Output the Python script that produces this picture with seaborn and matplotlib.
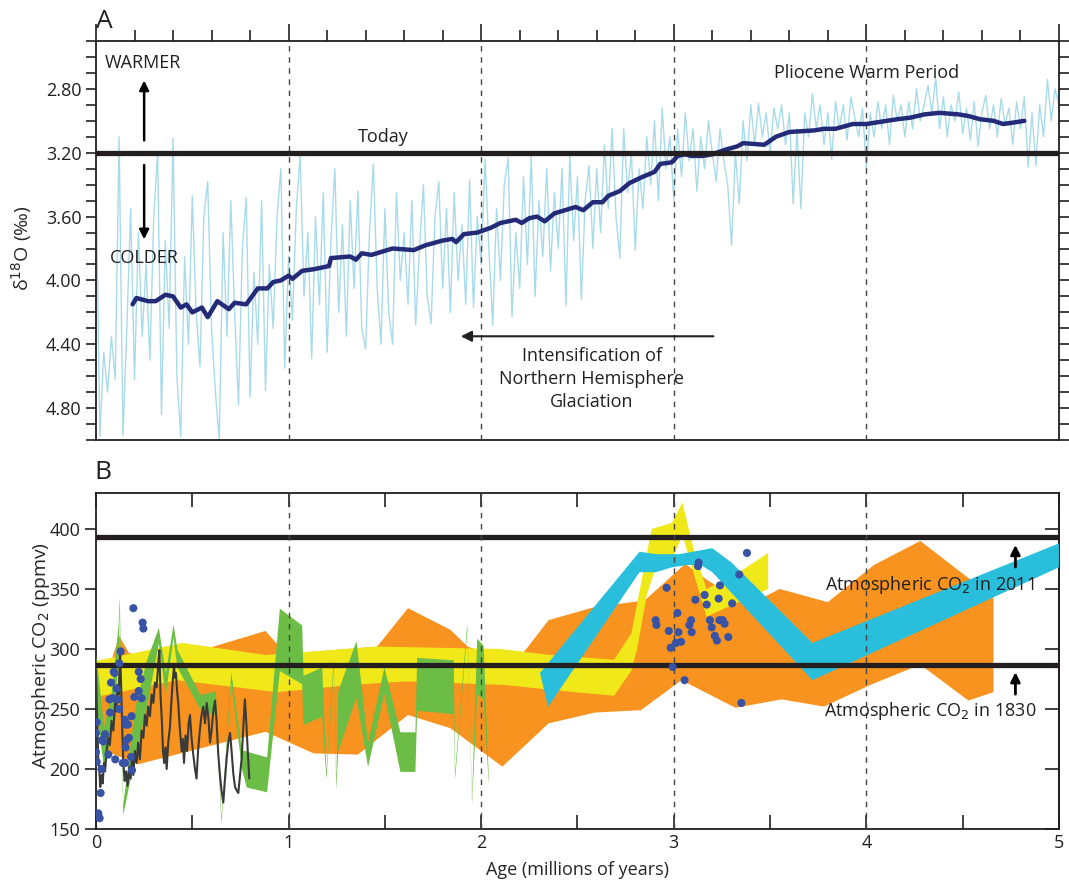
import numpy as np
import matplotlib
matplotlib.use('Agg')
import matplotlib.pyplot as plt
from matplotlib.ticker import MultipleLocator, FormatStrFormatter
import seaborn as sns

# ---------------- Panel A: benthic d18O stack ----------------
# raw record, read every 0.02 Myr from 0 to 5 Ma
d18o_raw = [
    3.30, 4.98, 4.45, 4.70, 4.35, 4.62, 3.10, 4.97, 4.30, 3.55,
    4.62, 3.70, 4.35, 3.90, 4.50, 3.60, 3.20, 4.84, 3.75, 4.30,
    3.11, 4.60, 4.98, 3.85, 4.40, 3.47, 4.20, 4.54, 3.60, 3.38,
    4.30, 4.70, 5.00, 3.70, 4.35, 3.50, 4.20, 4.78, 3.80, 3.48,
    4.73, 3.95, 4.40, 3.50, 4.69, 3.90, 4.30, 3.60, 3.30, 4.55,
    3.85, 4.25, 3.55, 3.22, 4.10, 3.70, 4.49, 3.60, 4.15, 3.45,
    4.45, 3.75, 3.30, 4.20, 3.65, 4.35, 3.50, 4.05, 3.44, 4.30,
    4.43, 3.70, 3.27, 4.05, 4.40, 3.55, 4.20, 4.40, 3.45, 4.00,
    3.70, 4.15, 3.50, 4.28, 3.80, 3.40, 4.10, 4.27, 3.60, 3.38,
    4.05, 3.55, 4.20, 3.45, 4.00, 3.65, 4.15, 3.37, 4.17, 3.60,
    3.90, 3.24, 3.80, 4.28, 3.55, 4.00, 3.40, 3.23, 4.23, 3.70,
    4.05, 3.35, 3.90, 3.22, 4.10, 3.50, 3.85, 3.30, 3.94, 3.45,
    3.80, 3.30, 4.16, 3.22, 3.75, 3.35, 4.12, 3.50, 3.28, 3.80,
    3.30, 3.70, 3.15, 3.55, 3.05, 3.60, 3.86, 3.05, 3.45, 3.20,
    3.81, 3.30, 3.55, 3.10, 3.40, 3.00, 3.50, 2.92, 3.30, 3.10,
    3.50, 3.05, 3.35, 2.95, 3.25, 3.05, 3.44, 3.10, 3.30, 3.00,
    3.20, 3.38, 3.05, 3.25, 3.40, 3.78, 3.20, 3.52, 3.00, 3.25,
    2.90, 3.15, 2.89, 3.10, 2.95, 3.20, 2.92, 3.05, 2.90, 3.15,
    2.95, 3.52, 3.05, 3.55, 2.95, 3.10, 2.83, 3.05, 2.90, 3.15,
    2.95, 3.24, 2.88, 3.05, 2.90, 3.12, 2.85, 2.98, 3.10, 2.92,
    3.30, 2.95, 3.10, 2.88, 3.05, 2.90, 3.15, 2.84, 3.00, 2.90,
    3.10, 2.88, 3.05, 2.80, 3.00, 2.90, 2.78, 2.95, 2.73, 3.05,
    2.85, 3.10, 2.90, 3.00, 2.82, 3.08, 2.92, 3.12, 2.88, 3.16,
    2.95, 2.84, 3.05, 2.90, 3.10, 2.86, 3.02, 2.92, 3.15, 2.88,
    3.05, 2.85, 3.29, 2.95, 3.28, 2.90, 3.10, 2.74, 3.00, 2.80,
    2.90,
]
d18o_age = np.linspace(0, 5, len(d18o_raw))

# smoothed curve
smooth_age = [0.19, 0.21, 0.27, 0.31, 0.36, 0.40, 0.44, 0.47, 0.50, 0.55,
              0.58, 0.63, 0.69, 0.72, 0.78, 0.84, 0.89, 0.92, 0.96, 1.00,
              1.02, 1.07, 1.13, 1.21, 1.22, 1.32, 1.35, 1.38, 1.43, 1.54,
              1.65, 1.71, 1.80, 1.85, 1.87, 1.91, 1.98, 2.05, 2.10, 2.18,
              2.21, 2.25, 2.29, 2.33, 2.38, 2.49, 2.53, 2.58, 2.63, 2.66,
              2.72, 2.77, 2.84, 2.90, 2.93, 2.99, 3.02, 3.06, 3.09, 3.15,
              3.20, 3.27, 3.33, 3.36, 3.47, 3.53, 3.60, 3.73, 3.78, 3.84,
              3.93, 4.00, 4.16, 4.23, 4.30, 4.38, 4.48, 4.53, 4.59, 4.66,
              4.71, 4.77, 4.82]
smooth_val = [4.15, 4.11, 4.13, 4.13, 4.09, 4.10, 4.17, 4.15, 4.20, 4.17,
              4.23, 4.13, 4.18, 4.14, 4.15, 4.05, 4.05, 4.01, 4.00, 3.97,
              3.99, 3.94, 3.93, 3.91, 3.86, 3.85, 3.87, 3.83, 3.84, 3.80,
              3.81, 3.78, 3.75, 3.74, 3.76, 3.71, 3.70, 3.67, 3.64, 3.62,
              3.64, 3.61, 3.60, 3.63, 3.58, 3.54, 3.56, 3.51, 3.51, 3.47,
              3.44, 3.39, 3.35, 3.32, 3.27, 3.26, 3.22, 3.21, 3.22, 3.22,
              3.21, 3.18, 3.16, 3.14, 3.15, 3.10, 3.07, 3.06, 3.05, 3.05,
              3.02, 3.02, 2.99, 2.98, 2.96, 2.95, 2.96, 2.97, 2.99, 3.00,
              3.02, 3.01, 3.00]
today_d18o = 3.20

# ---------------- Panel B: CO2 reconstructions ----------------
orange_upper_age = [0.00, 0.08, 0.12, 0.17, 0.25, 0.45, 0.61, 0.88, 0.93, 1.00,
                    1.46, 1.62, 1.84, 1.93, 2.00, 2.22, 2.35, 2.59, 2.83, 2.86,
                    3.06, 3.16, 3.38, 3.55, 3.80, 4.04, 4.28, 4.66]
orange_upper = [280, 290, 311, 297, 292, 296, 302, 315, 306, 296,
                302, 334, 316, 302, 298, 297, 324, 335, 340, 342,
                371, 359, 336, 350, 339, 370, 390, 343]
orange_lower_age = [0.00, 0.05, 0.22, 0.88, 1.13, 1.36, 1.62, 1.84, 2.11, 2.35,
                    2.59, 2.83, 3.04, 3.32, 3.56, 3.78, 4.02, 4.28, 4.53, 4.66]
orange_lower = [240, 215, 204, 231, 213, 212, 245, 234, 202, 238,
                247, 249, 274, 251, 258, 252, 270, 287, 257, 264]

yellow_upper_age = [0.00, 0.45, 0.88, 1.46, 2.10, 2.36, 2.69, 2.78, 2.885, 2.99,
                    3.045, 3.10, 3.17, 3.33, 3.49]
yellow_upper = [290, 305, 295, 302, 300, 295, 291, 313, 400, 405,
                422, 385, 350, 363, 380]
yellow_lower_age = [0.00, 0.42, 0.94, 1.32, 1.61, 2.12, 2.36, 2.69, 2.78, 2.81,
                    2.86, 2.92, 3.00, 3.045, 3.10, 3.17, 3.49]
yellow_lower = [260, 274, 264, 270, 273, 270, 266, 261, 282, 300,
                345, 375, 378, 395, 365, 327, 350]

green_age = [0.00, 0.04, 0.08, 0.115, 0.121, 0.127, 0.139, 0.20, 0.26, 0.324,
             0.36, 0.40, 0.42, 0.54, 0.62, 0.649, 0.70, 0.756, 0.78, 0.886,
             0.952, 1.068, 1.075, 1.172, 1.194, 1.232, 1.245, 1.255, 1.35, 1.41,
             1.495, 1.578, 1.656, 1.665, 1.855, 1.862, 1.925, 1.950, 1.977, 2.01,
             2.037]
green_lo = [250, 200, 230, 290, 335, 250, 162, 210, 250, 305,
            262, 310, 285, 250, 245, 155, 272, 200, 185, 181,
            282, 271, 237, 244, 192, 285, 183, 215, 260, 202,
            263, 198, 198, 249, 246, 192, 315, 171, 263, 258,
            188]
green_hi = [295, 235, 265, 320, 344, 290, 170, 250, 290, 318,
            280, 321, 300, 262, 265, 160, 281, 216, 215, 210,
            334, 320, 278, 285, 198, 292, 190, 265, 307, 222,
            285, 231, 231, 293, 291, 198, 321, 176, 309, 303,
            193]

cyan_upper_age = [2.305, 2.822, 2.908, 3.03, 3.20, 3.30, 3.72, 5.00]
cyan_upper = [280, 381, 379, 379, 384, 372, 305, 388]
cyan_lower_age = [2.348, 2.822, 2.908, 2.99, 3.07, 3.14, 3.20, 3.72, 5.00]
cyan_lower = [252, 364, 364, 368, 370, 370, 364, 274, 368]

dot_age = [0.194, 0.242, 0.246, 0.128, 0.121, 0.092, 0.096, 0.222, 0.232, 0.078,
           0.222, 0.237, 0.199, 0.070, 0.087, 0.116, 0.107, 0.121, 0.073, 0.185,
           0.004, 0.150, 0.155, 0.166, 0.000, 0.047, 0.030, 0.038, 0.171, 0.159,
           0.154, 0.064, 0.000, 0.004, 0.182, 0.100, 0.139, 0.152, 0.187, 0.028,
           0.024, 0.012, 0.019,
           3.380, 3.129, 3.126, 3.340, 2.963, 3.240, 3.160, 3.233, 3.112, 3.171,
           3.303, 3.019, 2.906, 2.910, 3.090, 3.081, 3.188, 3.237, 3.254, 3.264,
           3.197, 2.974, 3.024, 3.093, 3.213, 3.283, 3.224, 3.011, 3.038, 2.984,
           2.994, 3.056, 3.351]
dot_co2 = [334, 322, 317, 298, 288, 281, 280, 281, 275, 272,
           265, 259, 260, 258, 259, 258, 267, 250, 247, 244,
           239, 241, 237, 237, 230, 229, 224, 223, 226, 224,
           218, 212, 214, 206, 210, 208, 205, 205, 199, 200,
           180, 163, 159,
           380, 372, 369, 362, 351, 353, 345, 342, 341, 337,
           338, 330, 324, 320, 324, 320, 324, 324, 324, 321,
           318, 315, 314, 314, 311, 310, 307, 305, 306, 301,
           285, 274, 255]

ice_age = [0.000, 0.004, 0.008, 0.012, 0.017, 0.022, 0.029, 0.035, 0.041, 0.047,
           0.055, 0.064, 0.072, 0.081, 0.090, 0.099, 0.105, 0.111, 0.118, 0.125,
           0.130, 0.136, 0.142, 0.149, 0.156, 0.164, 0.173, 0.180, 0.187, 0.194,
           0.202, 0.211, 0.219, 0.228, 0.237, 0.246, 0.254, 0.263, 0.271, 0.280,
           0.289, 0.298, 0.306, 0.315, 0.322, 0.329, 0.335, 0.342, 0.348, 0.354,
           0.361, 0.367, 0.375, 0.384, 0.391, 0.398, 0.405, 0.410, 0.415, 0.421,
           0.427, 0.436, 0.445, 0.451, 0.457, 0.465, 0.473, 0.481, 0.488, 0.496,
           0.505, 0.514, 0.522, 0.530, 0.539, 0.548, 0.557, 0.566, 0.575, 0.584,
           0.592, 0.600, 0.609, 0.618, 0.626, 0.635, 0.644, 0.652, 0.661, 0.669,
           0.678, 0.687, 0.696, 0.704, 0.713, 0.722, 0.731, 0.739, 0.748, 0.756,
           0.765, 0.773, 0.780, 0.788, 0.796]
ice_co2 = [282, 255, 230, 208, 200, 185, 195, 188, 205, 198,
           215, 226, 220, 240, 232, 255, 248, 270, 262, 298,
           272, 235, 205, 190, 198, 186, 202, 192, 210, 195,
           215, 205, 222, 208, 232, 226, 245, 236, 252, 244,
           262, 255, 272, 268, 285, 299, 262, 240, 215, 205,
           218, 200, 222, 235, 255, 272, 286, 276, 280, 265,
           255, 232, 215, 225, 205, 228, 215, 238, 245, 226,
           212, 200, 192, 215, 232, 245, 252, 238, 255, 242,
           222, 232, 248, 257, 240, 212, 194, 182, 172, 190,
           208, 222, 230, 215, 196, 185, 182, 180, 195, 208,
           235, 258, 240, 215, 192]

co2_2011 = 393
co2_1830 = 287
grid_ages = [1, 2, 3, 4]

# ---------------- style ----------------
sns.set_theme(style='ticks')
plt.rcParams['font.family'] = ['Open Sans', 'DejaVu Sans']
plt.rcParams['axes.edgecolor'] = '#231f20'
plt.rcParams['axes.linewidth'] = 1.3
plt.rcParams['xtick.color'] = '#231f20'
plt.rcParams['ytick.color'] = '#231f20'
plt.rcParams['text.color'] = '#231f20'

dark = '#231f20'
fs_tick = 13
fs_text = 13

fig = plt.figure(figsize=(10.69, 8.82), dpi=100)
ax1 = fig.add_axes([0.0898, 0.5011, 0.9008, 0.4524])
ax2 = fig.add_axes([0.0898, 0.0601, 0.9008, 0.381])

# ---- panel A ----
sns.lineplot(x=d18o_age, y=d18o_raw, ax=ax1, color='#a8dbea', lw=1.0,
             sort=False, estimator=None, zorder=2)
sns.lineplot(x=smooth_age, y=smooth_val, ax=ax1, color='#232a77', lw=3.2,
             sort=False, estimator=None, zorder=4)
ax1.axhline(today_d18o, color=dark, lw=3.8, zorder=5)
for a in grid_ages:
    ax1.axvline(a, color='#444444', lw=1.0, ls=(0, (4, 4)), zorder=3)

ax1.set_xlim(0, 5)
ax1.set_ylim(5.0, 2.5)
ax1.xaxis.tick_top()
ax1.xaxis.set_major_locator(MultipleLocator(1))
ax1.xaxis.set_minor_locator(MultipleLocator(0.2))
ax1.tick_params(axis='x', which='both', direction='out', top=True, bottom=False,
                labeltop=False, labelbottom=False, width=1.2)
ax1.tick_params(axis='x', which='major', length=12)
ax1.tick_params(axis='x', which='minor', length=8)
ax1.yaxis.set_major_locator(MultipleLocator(0.4))
ax1.yaxis.set_minor_locator(MultipleLocator(0.1))
ax1.yaxis.set_major_formatter(FormatStrFormatter('%.2f'))
ax1.tick_params(axis='y', which='both', direction='out', left=True, right=True,
                labelleft=True, labelright=False, length=7, width=1.2,
                labelsize=fs_tick)
ax1.set_xlabel('')
ax1.set_ylabel('δ$^{18}$O (‰)', fontsize=fs_text + 1)
ax1.yaxis.set_label_coords(-0.064, 0.48)

ax1.text(0.245, 2.635, 'WARMER', ha='center', va='center', fontsize=fs_text)
ax1.text(0.25, 3.86, 'COLDER', ha='center', va='center', fontsize=fs_text)
ax1.annotate('', xy=(0.25, 2.73), xytext=(0.25, 3.14),
             arrowprops=dict(arrowstyle='-|>', color='black', lw=1.8, mutation_scale=14))
ax1.annotate('', xy=(0.25, 3.76), xytext=(0.25, 3.26),
             arrowprops=dict(arrowstyle='-|>', color='black', lw=1.8, mutation_scale=14))
ax1.text(1.49, 3.10, 'Today', ha='center', va='center', fontsize=fs_text)
ax1.text(4.0, 2.70, 'Pliocene Warm Period', ha='center', va='center', fontsize=fs_text)
ax1.annotate('', xy=(1.88, 4.35), xytext=(3.22, 4.35),
             arrowprops=dict(arrowstyle='-|>', color='#231f20', lw=1.5, mutation_scale=16))
ax1.text(2.575, 4.62, 'Intensification of\nNorthern Hemisphere\nGlaciation',
         ha='center', va='center', fontsize=fs_text, linespacing=1.35)
fig.text(96 / 1069, 0.976, 'A', fontsize=19, ha='left', va='center')

# ---- panel B ----
ax2.fill(np.concatenate([orange_upper_age, orange_lower_age[::-1]]),
         np.concatenate([orange_upper, orange_lower[::-1]]),
         color='#f7931e', lw=0, zorder=1)
ax2.fill(np.concatenate([yellow_upper_age, yellow_lower_age[::-1]]),
         np.concatenate([yellow_upper, yellow_lower[::-1]]),
         color='#f1e81a', lw=0, zorder=2)
ax2.fill_between(green_age, green_lo, green_hi, color='#6cbd45', lw=0, zorder=3)
ax2.fill(np.concatenate([cyan_upper_age, cyan_lower_age[::-1]]),
         np.concatenate([cyan_upper, cyan_lower[::-1]]),
         color='#29bfdc', lw=0, zorder=4)
sns.lineplot(x=ice_age, y=ice_co2, ax=ax2, color='#3a3a3a', lw=1.5,
             sort=False, estimator=None, zorder=5)
ax2.axhline(co2_2011, color=dark, lw=3.8, zorder=6)
ax2.axhline(co2_1830, color=dark, lw=3.8, zorder=6)
for a in grid_ages:
    ax2.axvline(a, color='#444444', lw=1.0, ls=(0, (4, 4)), zorder=7)
sns.scatterplot(x=dot_age, y=dot_co2, ax=ax2, color='#3853a4', s=34,
                edgecolor='none', zorder=8)

ax2.set_xlim(0, 5)
ax2.set_ylim(150, 430)
ax2.xaxis.set_major_locator(MultipleLocator(1))
ax2.xaxis.set_minor_locator(MultipleLocator(0.5))
ax2.tick_params(axis='x', which='both', direction='in', top=True, bottom=True,
                length=10, width=1.2, labelsize=fs_tick)
ax2.yaxis.set_major_locator(MultipleLocator(50))
ax2.tick_params(axis='y', which='both', direction='out', left=True, right=False,
                length=8, width=1.2, labelsize=fs_tick)
ax2r = ax2.secondary_yaxis('right')
ax2r.yaxis.set_major_locator(MultipleLocator(50))
ax2r.tick_params(axis='y', direction='in', length=10, width=1.2, labelright=False)
ax2.set_xlabel('Age (millions of years)', fontsize=fs_text)
ax2.xaxis.set_label_coords(0.5, -0.095)
ax2.set_ylabel('Atmospheric CO$_2$ (ppmv)', fontsize=fs_text + 1)
ax2.yaxis.set_label_coords(-0.046, 0.515)

ax2.text(4.33, 353, 'Atmospheric CO$_2$ in 2011', ha='center', va='center',
         fontsize=fs_text, zorder=9)
ax2.text(4.33, 248, 'Atmospheric CO$_2$ in 1830', ha='center', va='center',
         fontsize=fs_text, zorder=9)
ax2.annotate('', xy=(4.774, 389), xytext=(4.774, 366),
             arrowprops=dict(arrowstyle='-|>', color='black', lw=2.0, mutation_scale=14),
             zorder=9)
ax2.annotate('', xy=(4.774, 283), xytext=(4.774, 260),
             arrowprops=dict(arrowstyle='-|>', color='black', lw=2.0, mutation_scale=14),
             zorder=9)
fig.text(94 / 1069, 0.4643, 'B', fontsize=19, ha='left', va='center')

fig.savefig('out.png', dpi=100)
